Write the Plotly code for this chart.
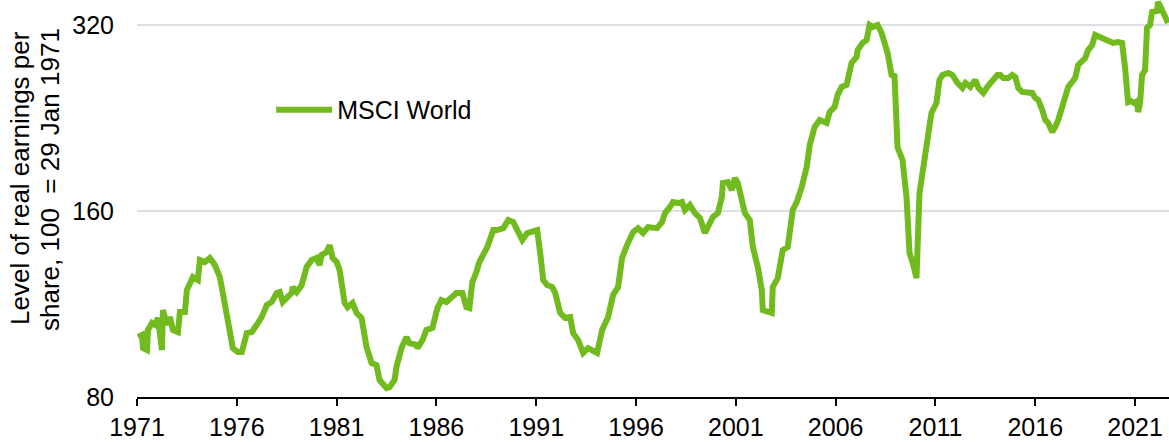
import plotly.graph_objects as go

# Decimal years and level of real EPS (100 = 29 Jan 1971)
years = [
    1971.05, 1971.25, 1971.30, 1971.50, 1971.55, 1971.75, 1971.90, 1972.05, 1972.25, 1972.30,
    1972.50, 1972.65, 1972.80, 1973.05, 1973.15, 1973.40, 1973.50, 1973.65, 1973.80, 1974.05,
    1974.15, 1974.40, 1974.65, 1974.90, 1975.15, 1975.30, 1975.55, 1975.80, 1976.05, 1976.25,
    1976.50, 1976.75, 1977.00, 1977.25, 1977.50, 1977.75, 1978.00, 1978.15, 1978.30, 1978.50,
    1978.75, 1978.80, 1979.00, 1979.25, 1979.50, 1979.75, 1980.00, 1980.15, 1980.25, 1980.50,
    1980.65, 1980.80, 1981.00, 1981.15, 1981.40, 1981.55, 1981.80, 1982.00, 1982.25, 1982.50,
    1982.75, 1983.00, 1983.15, 1983.50, 1983.65, 1983.90, 1984.00, 1984.25, 1984.50, 1984.65,
    1985.00, 1985.05, 1985.30, 1985.50, 1985.80, 1986.05, 1986.25, 1986.50, 1986.80, 1987.00,
    1987.30, 1987.50, 1987.65, 1987.80, 1988.00, 1988.15, 1988.55, 1988.85, 1989.05, 1989.35,
    1989.60, 1989.85, 1990.05, 1990.30, 1990.55, 1990.85, 1991.05, 1991.20, 1991.35, 1991.55,
    1991.80, 1991.95, 1992.20, 1992.45, 1992.70, 1992.85, 1993.10, 1993.35, 1993.60, 1994.05,
    1994.30, 1994.60, 1994.85, 1995.10, 1995.30, 1995.55, 1995.85, 1996.10, 1996.35, 1996.60,
    1997.05, 1997.30, 1997.45, 1997.70, 1997.85, 1998.10, 1998.30, 1998.45, 1998.70, 1998.95,
    1999.20, 1999.45, 1999.60, 1999.85, 2000.10, 2000.30, 2000.35, 2000.60, 2000.80, 2000.95,
    2001.10, 2001.30, 2001.45, 2001.70, 2001.85, 2002.10, 2002.30, 2002.35, 2002.60, 2002.80,
    2002.85, 2003.10, 2003.35, 2003.60, 2003.85, 2004.05, 2004.30, 2004.55, 2004.70, 2004.95,
    2005.20, 2005.55, 2005.70, 2005.95, 2006.10, 2006.30, 2006.55, 2006.80, 2007.05, 2007.10,
    2007.35, 2007.55, 2007.70, 2007.85, 2008.10, 2008.30, 2008.45, 2008.60, 2008.80, 2008.95,
    2009.10, 2009.35, 2009.55, 2009.70, 2009.85, 2010.05, 2010.20, 2010.35, 2010.45, 2010.60,
    2010.80, 2011.05, 2011.20, 2011.35, 2011.65, 2011.85, 2012.10, 2012.35, 2012.50, 2012.75,
    2013.00, 2013.15, 2013.40, 2013.60, 2013.85, 2014.10, 2014.25, 2014.40, 2014.65, 2014.85,
    2015.00, 2015.15, 2015.35, 2015.60, 2015.85, 2016.00, 2016.15, 2016.35, 2016.50, 2016.65,
    2016.85, 2017.00, 2017.15, 2017.35, 2017.50, 2017.65, 2017.85, 2018.00, 2018.15, 2018.35,
    2018.50, 2018.65, 2018.85, 2019.00, 2019.25, 2019.50, 2019.75, 2019.90, 2020.15, 2020.35,
    2020.50, 2020.65, 2020.80, 2020.95, 2021.10, 2021.15, 2021.25, 2021.35, 2021.50, 2021.60,
    2021.75, 2021.85, 2022.10, 2022.15, 2022.35, 2022.50, 2022.65,
]
msci_world = [
    100.0, 100.8, 96.0, 95.3, 102.7, 105.4, 104.7, 107.4, 95.3, 110.6,
    104.7, 107.8, 102.7, 101.9, 109.8, 109.8, 119.2, 122.8, 125.1, 123.7,
    133.3, 132.3, 134.3, 130.8, 125.1, 117.9, 106.6, 96.0, 94.6, 94.6,
    101.5, 101.9, 104.7, 107.8, 112.7, 114.0, 117.9, 118.3, 114.0, 116.1,
    117.9, 120.5, 118.3, 121.4, 129.9, 133.3, 134.3, 130.8, 135.8, 137.3,
    140.9, 134.3, 132.3, 128.4, 113.6, 111.8, 113.6, 109.4, 107.4, 96.3,
    90.8, 90.1, 85.2, 82.7, 83.0, 85.2, 89.5, 96.0, 100.0, 97.8,
    97.2, 96.0, 98.9, 102.7, 103.5, 111.4, 114.8, 114.0, 116.1, 117.9,
    117.9, 111.8, 111.4, 122.8, 127.4, 132.3, 139.9, 149.0, 149.0, 150.1,
    154.7, 153.5, 149.0, 143.6, 147.4, 147.9, 149.0, 136.8, 123.7, 121.4,
    120.5, 117.9, 109.4, 107.4, 107.8, 101.5, 98.9, 94.3, 96.0, 94.3,
    102.7, 107.8, 117.0, 120.5, 134.3, 140.9, 147.9, 150.1, 147.4, 150.7,
    150.1, 153.5, 158.8, 162.4, 165.4, 164.8, 165.4, 160.6, 163.6, 158.8,
    155.9, 147.4, 150.7, 156.5, 158.8, 168.6, 177.6, 178.2, 173.0, 180.9,
    177.6, 166.7, 158.8, 154.7, 139.9, 129.9, 119.2, 110.6, 109.8, 109.4,
    120.5, 124.6, 138.3, 139.9, 160.6, 165.4, 174.9, 188.5, 204.6, 218.9,
    224.6, 222.1, 231.4, 235.8, 246.6, 254.1, 256.0, 277.8, 284.1, 291.5,
    299.3, 302.6, 320.0, 317.6, 320.0, 310.7, 299.3, 288.3, 265.6, 264.6,
    202.9, 193.5, 168.6, 136.8, 132.3, 124.6, 171.1, 184.3, 198.6, 216.4,
    230.5, 239.3, 260.7, 265.6, 267.6, 265.6, 257.9, 253.1, 257.9, 254.1,
    260.7, 253.1, 248.4, 254.1, 260.7, 265.6, 265.6, 262.6, 262.6, 265.6,
    263.6, 253.1, 249.3, 248.4, 248.4, 243.8, 242.0, 233.1, 224.6, 222.1,
    214.8, 218.9, 224.6, 235.8, 244.7, 254.1, 258.9, 262.6, 275.7, 280.9,
    282.9, 291.5, 296.9, 308.3, 306.0, 302.6, 300.4, 299.3, 300.4, 299.3,
    272.6, 240.0, 241.0, 239.3, 241.0, 231.4, 239.3, 265.6, 270.6, 316.5,
    320.0, 335.9, 337.1, 348.7, 338.4, 328.4, 322.5,
]

x_ticks = [1971, 1976, 1981, 1986, 1991, 1996, 2001, 2006, 2011, 2016, 2021]
y_ticks = [80, 160, 320]
series_name = "MSCI World"
y_title_lines = ["Level of real earnings per", "share, 100  = 29 Jan 1971"]

GREEN = "#72BB1F"
FONT = "Liberation Sans, Arial, sans-serif"

fig = go.Figure()
fig.add_trace(go.Scatter(
    x=years, y=msci_world, mode="lines", name=series_name,
    line=dict(color=GREEN, width=6),
))

fig.update_layout(
    width=1169, height=442,
    margin=dict(l=137, r=0, t=0, b=45),
    paper_bgcolor="white", plot_bgcolor="white",
    font=dict(family=FONT, size=24, color="#000000"),
    showlegend=True,
    legend=dict(
        x=0.130, y=0.723, xanchor="left", yanchor="middle",
        bgcolor="rgba(0,0,0,0)", font=dict(size=25),
        itemwidth=56,
    ),
    xaxis=dict(
        range=[1971, 2022.7], tickvals=x_ticks, ticktext=[str(t) for t in x_ticks],
        showgrid=False, zeroline=False,
        showline=True, linecolor="#000000", linewidth=1.5,
        ticks="outside", ticklen=7, tickwidth=1.5, tickcolor="#000000",
        tickfont=dict(size=25),
    ),
    yaxis=dict(
        type="log", range=[1.90309, 2.5456],
        tickvals=y_ticks, ticktext=[str(t) for t in y_ticks],
        showgrid=True, gridcolor="#DCE0E4", gridwidth=1.5,
        zeroline=False, showline=False, ticks="", ticklabelstandoff=22,
        tickfont=dict(size=25),
    ),
    annotations=[
        dict(text=y_title_lines[0], textangle=-90, xref="paper", yref="paper",
             x=(20 - 137) / 1032, y=(397 - 178) / 397, xanchor="center", yanchor="middle",
             showarrow=False, font=dict(size=26, family=FONT)),
        dict(text=y_title_lines[1], textangle=-90, xref="paper", yref="paper",
             x=(50 - 137) / 1032, y=(397 - 180) / 397, xanchor="center", yanchor="middle",
             showarrow=False, font=dict(size=26, family=FONT)),
    ],
)

fig.write_html(
    "out.html",
    config={"displayModeBar": False},
    post_script="document.body.style.margin='0';",
)
